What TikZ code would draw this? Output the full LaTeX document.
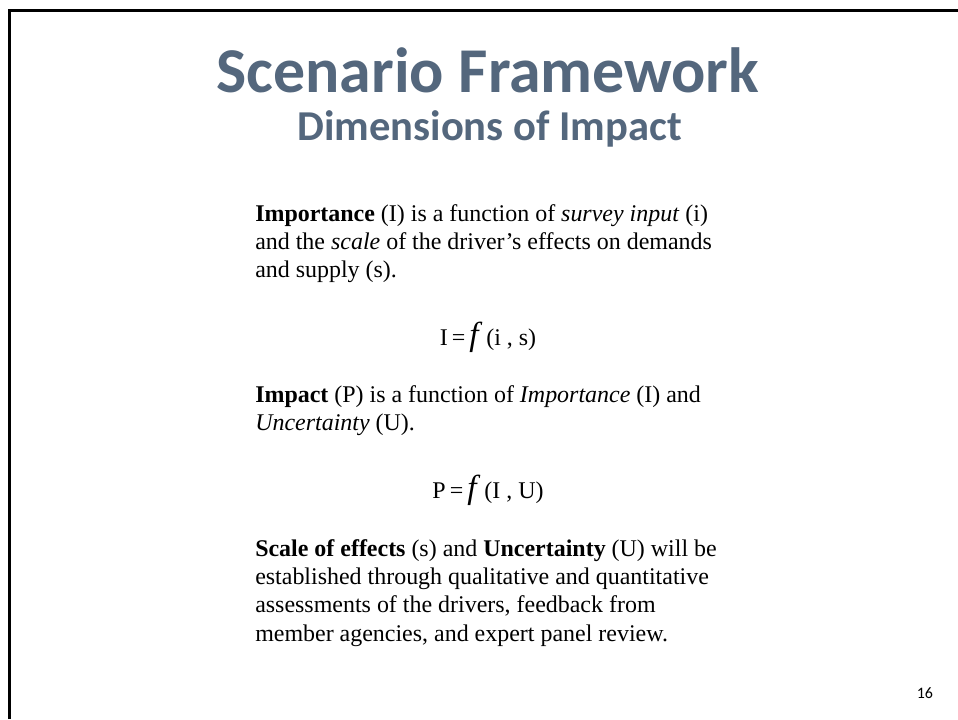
\documentclass[tikz,border=0pt]{standalone}
\usepackage{fontspec}
\setmainfont{Liberation Serif}
\newfontfamily\calibri{Carlito}
\definecolor{slate}{RGB}{84,103,125}

\begin{document}
\begin{tikzpicture}[x=0.7516pt,y=-0.7516pt,
    line/.style={anchor=base west,inner sep=0pt,font=\fontsize{18}{21}\selectfont},
    formula/.style={anchor=base,inner sep=0pt,font=\fontsize{18}{21}\selectfont}]
      \useasboundingbox (0,0) rectangle (958,719);
      % frame, open at the bottom and on the right
      \draw[line width=2.25pt] (9.5,719) -- (9.5,10.5) -- (958,10.5);
      % titles
      \node[anchor=base,inner sep=0pt,text=slate,font=\calibri\bfseries\fontsize{48}{48}\selectfont]
            (title) at (488,92.3) {Scenario Framework};
      \node[anchor=base,inner sep=0pt,text=slate,font=\calibri\bfseries\fontsize{32}{32}\selectfont]
            (subtitle) at (489.6,141) {Dimensions of Impact};
      % importance
      \node[line] (imp1) at (255,221.7) {\textbf{Importance} (I) is a function of \textit{survey input} (i)};
      \node[line] (imp2) at (255,249.5) {and the \textit{scale} of the driver’s effects on demands};
      \node[line] (imp3) at (255,277.3) {and supply (s).};
      \node[formula] (eqI) at (488,345) {I\,=\,{\fontsize{25}{25}\selectfont\itshape f\/}\,(i , s)};
      % impact
      \node[line] (pac1) at (255,402.7) {\textbf{Impact} (P) is a function of \textit{Importance} (I) and};
      \node[line] (pac2) at (255,430.5) {\textit{Uncertainty} (U).};
      \node[formula] (eqP) at (488,498) {P\,=\,{\fontsize{25}{25}\selectfont\itshape f\/}\,(I , U)};
      % scale and uncertainty
      \node[line] (sca1) at (255,556) {\textbf{Scale of effects} (s) and \textbf{Uncertainty} (U) will be};
      \node[line] (sca2) at (255,584.3) {established through qualitative and quantitative};
      \node[line] (sca3) at (255,612.7) {assessments of the drivers, feedback from};
      \node[line] (sca4) at (255,641.5) {member agencies, and expert panel review.};
      % page number
      \node[anchor=base east,inner sep=0pt,font=\calibri\fontsize{12}{12}\selectfont] (page) at (933.3,698.3) {16};
\end{tikzpicture}
\end{document}
